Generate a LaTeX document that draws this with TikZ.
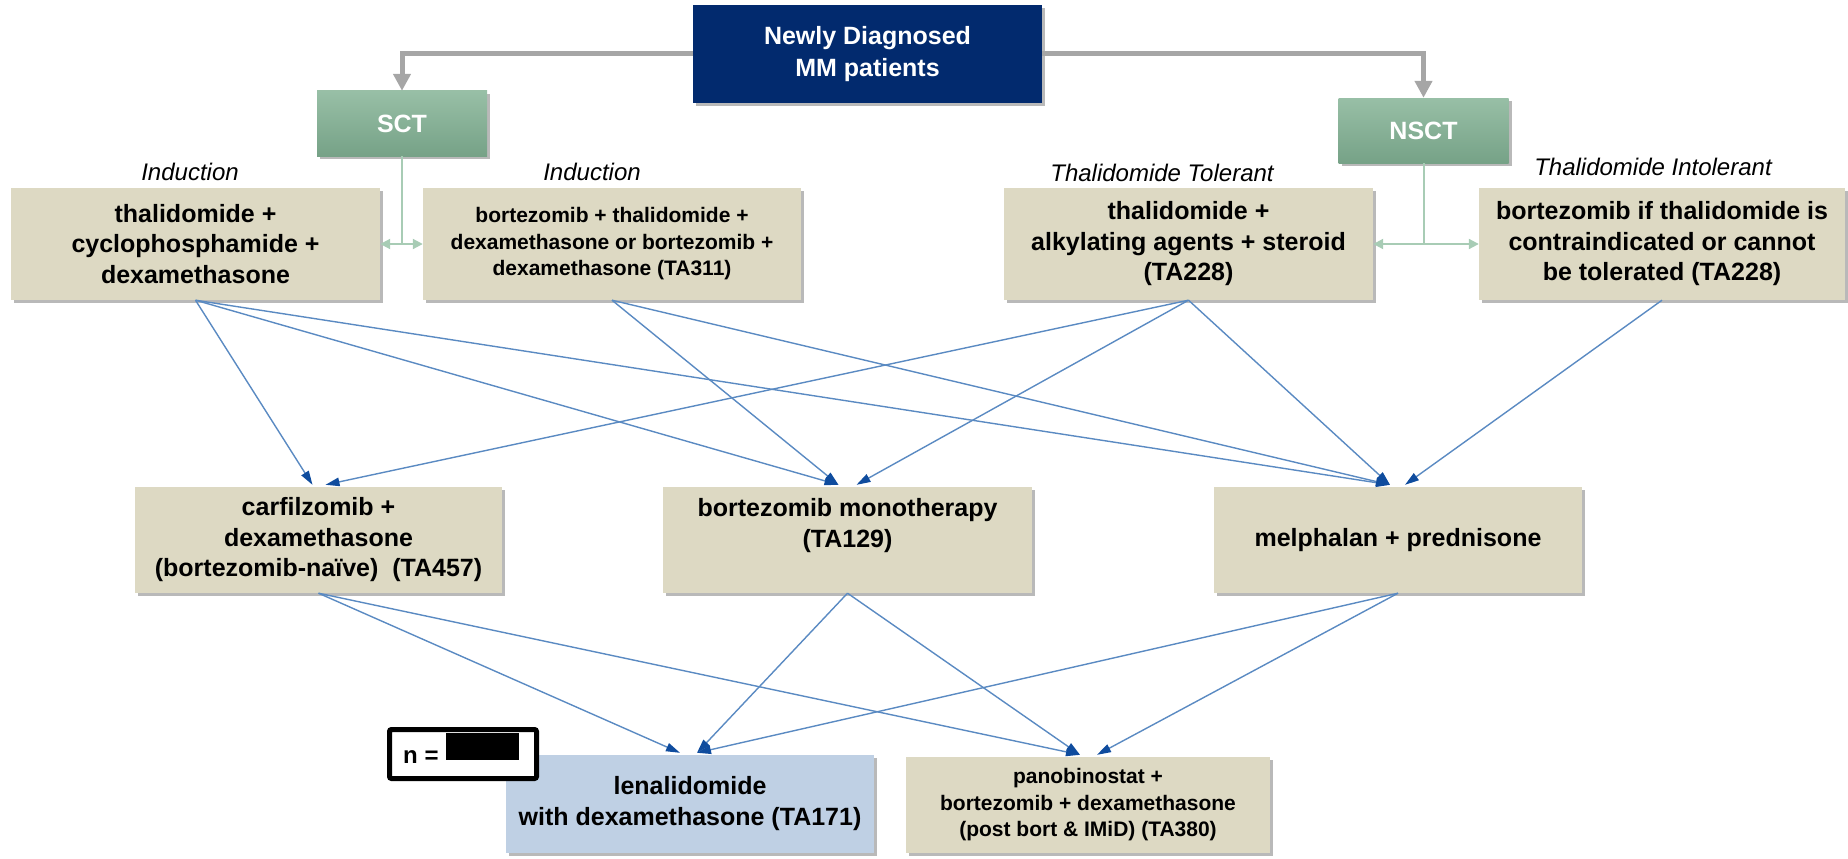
\documentclass[tikz,border=0pt]{standalone}
\usepackage{fontspec}
\setmainfont{Liberation Sans}
\usetikzlibrary{arrows.meta,shadows,calc}
\definecolor{tanc}{HTML}{DDD9C3}
\definecolor{navyc}{HTML}{022A6E}
\definecolor{lbluec}{HTML}{BFD0E4}
\definecolor{greentop}{HTML}{98BFA6}
\definecolor{greenbot}{HTML}{76A287}
\definecolor{greenln}{HTML}{A8CCB5}
\definecolor{grayln}{HTML}{A6A6A6}
\definecolor{blueln}{HTML}{5A8AC2}
\definecolor{bluetip}{HTML}{0F4C9E}
\begin{document}
\begin{tikzpicture}[x=1pt,y=1pt,
  shadowed/.style={drop shadow={shadow xshift=3pt,shadow yshift=-3pt,fill=black!50,opacity=0.55}},
  tanbox/.style={shadowed,fill=tanc,align=center,inner sep=0pt,font=\bfseries\fontsize{25}{30.5}\selectfont},
  smalltan/.style={tanbox,font=\bfseries\fontsize{21}{26.5}\selectfont},
  greenbox/.style={shadowed,top color=greentop,bottom color=greenbot,draw=none,inner sep=0pt,text=white,font=\bfseries\fontsize{25}{30}\selectfont},
  lbl/.style={font=\itshape\fontsize{24}{28}\selectfont,inner sep=0pt},
  bluearrow/.style={draw=blueln,line width=1.4pt,-{Triangle[length=14pt,width=8.5pt,color=bluetip]}},
  grayarrow/.style={draw=grayln,line width=5pt,-{Triangle[length=17pt,width=17pt]}},
  greenarrow/.style={draw=greenln,line width=2pt,{Triangle[length=10pt,width=10pt]}-{Triangle[length=10pt,width=10pt]}},
  greenline/.style={draw=greenln,line width=2pt}
]
\useasboundingbox (0,0) rectangle (1848,-859);

% top
\node[shadowed,fill=navyc,text=white,align=center,inner sep=0pt,minimum width=349,minimum height=98,
  font=\bfseries\fontsize{25}{32}\selectfont] (top) at (867.5,-54) {Newly Diagnosed\\MM patients};
\node[greenbox,minimum width=170,minimum height=65] (sct) at (402,-123.5) {SCT};
\node[greenbox,minimum width=170,minimum height=65] (nsct) at (1423.5,-130.5) {NSCT};

% first row
\node[tanbox,minimum width=369,minimum height=112] (b1) at (195.5,-244) {thalidomide +\\cyclophosphamide +\\dexamethasone};
\node[smalltan,minimum width=378,minimum height=112] (b2) at (612,-244) {bortezomib + thalidomide +\\dexamethasone or bortezomib +\\dexamethasone (TA311)};
\node[tanbox,minimum width=369,minimum height=112] (b3) at (1188.5,-244) {thalidomide +\\alkylating agents + steroid\\(TA228)};
\node[tanbox,minimum width=366,minimum height=112] (b4) at (1662,-244) {bortezomib if thalidomide is\\contraindicated or cannot\\be tolerated (TA228)};

\node[lbl] (l1) at (190,-172) {Induction};
\node[lbl] (l2) at (592,-172) {Induction};
\node[lbl] (l3) at (1162,-173) {Thalidomide Tolerant};
\node[lbl] (l4) at (1653,-167) {Thalidomide Intolerant};

% second row
\node[tanbox,minimum width=367,minimum height=106] (b5) at (318.5,-540) {carfilzomib +\\dexamethasone\\(bortezomib-naïve)\ \ (TA457)};
\node[tanbox,minimum width=369,minimum height=106] (b6) at (847.5,-540) {bortezomib monotherapy\\(TA129)\\[4pt]};
\node[tanbox,minimum width=368,minimum height=106] (b7) at (1398,-540) {melphalan + prednisone};

% third row
\node[tanbox,fill=lbluec,minimum width=368,minimum height=98,font=\bfseries\fontsize{25}{31}\selectfont] (b8) at (690,-804) {lenalidomide\\with dexamethasone (TA171)};
\node[smalltan,minimum width=364,minimum height=96] (b9) at (1088,-805) {panobinostat +\\bortezomib + dexamethasone\\(post bort \& IMiD) (TA380)};

% n box
\node[draw=black,line width=5pt,rounded corners=2pt,fill=white,minimum width=147,minimum height=49,inner sep=0pt] (nbox) at (463,-754) {};
\node[fill=black,minimum width=73,minimum height=27,inner sep=0pt] (nblk) at (482.5,-746.5) {};
\node[anchor=base west,inner sep=0pt,font=\bfseries\fontsize{24}{24}\selectfont] (nlbl) at (403,-763) {n =};

% gray connectors
\coordinate (gl) at (sct.north |- top.west);
\coordinate (gr) at (nsct.north |- top.east);
\draw[grayarrow] (top.west) -- (gl) -- (sct.north);
\draw[grayarrow] (top.east) -- (gr) -- (nsct.north);

% green connectors
\coordinate (sj) at (sct.south |- b1.east);
\coordinate (nj) at (nsct.south |- b3.east);
\draw[greenline] (sct.south) -- (sj);
\draw[greenarrow] (b1.east) -- (b2.west);
\draw[greenline] (nsct.south) -- (nj);
\draw[greenarrow] (b3.east) -- (b4.west);

% first to second row
\draw[bluearrow] (b1.south) -- ($(b5.north)+(-6,2)$);
\draw[bluearrow] (b1.south) -- ($(b6.north)+(-9,2)$);
\draw[bluearrow] (b1.south) -- ($(b7.north)+(-8,2)$);
\draw[bluearrow] (b2.south) -- ($(b6.north)+(-9,2)$);
\draw[bluearrow] (b2.south) -- ($(b7.north)+(-8,2)$);
\draw[bluearrow] (b3.south) -- ($(b5.north)+(7,2)$);
\draw[bluearrow] (b3.south) -- ($(b6.north)+(9,2)$);
\draw[bluearrow] (b3.south) -- ($(b7.north)+(-8,2)$);
\draw[bluearrow] (b4.south) -- ($(b7.north)+(7,2)$);

% second to third row
\draw[bluearrow] (b5.south) -- ($(b8.north)+(-10,2)$);
\draw[bluearrow] (b5.south) -- ($(b9.north)+(-8,2)$);
\draw[bluearrow] (b6.south) -- ($(b8.north)+(7,2)$);
\draw[bluearrow] (b6.south) -- ($(b9.north)+(-8,2)$);
\draw[bluearrow] (b7.south) -- ($(b8.north)+(7,2)$);
\draw[bluearrow] (b7.south) -- ($(b9.north)+(9,2)$);
\end{tikzpicture}
\end{document}
